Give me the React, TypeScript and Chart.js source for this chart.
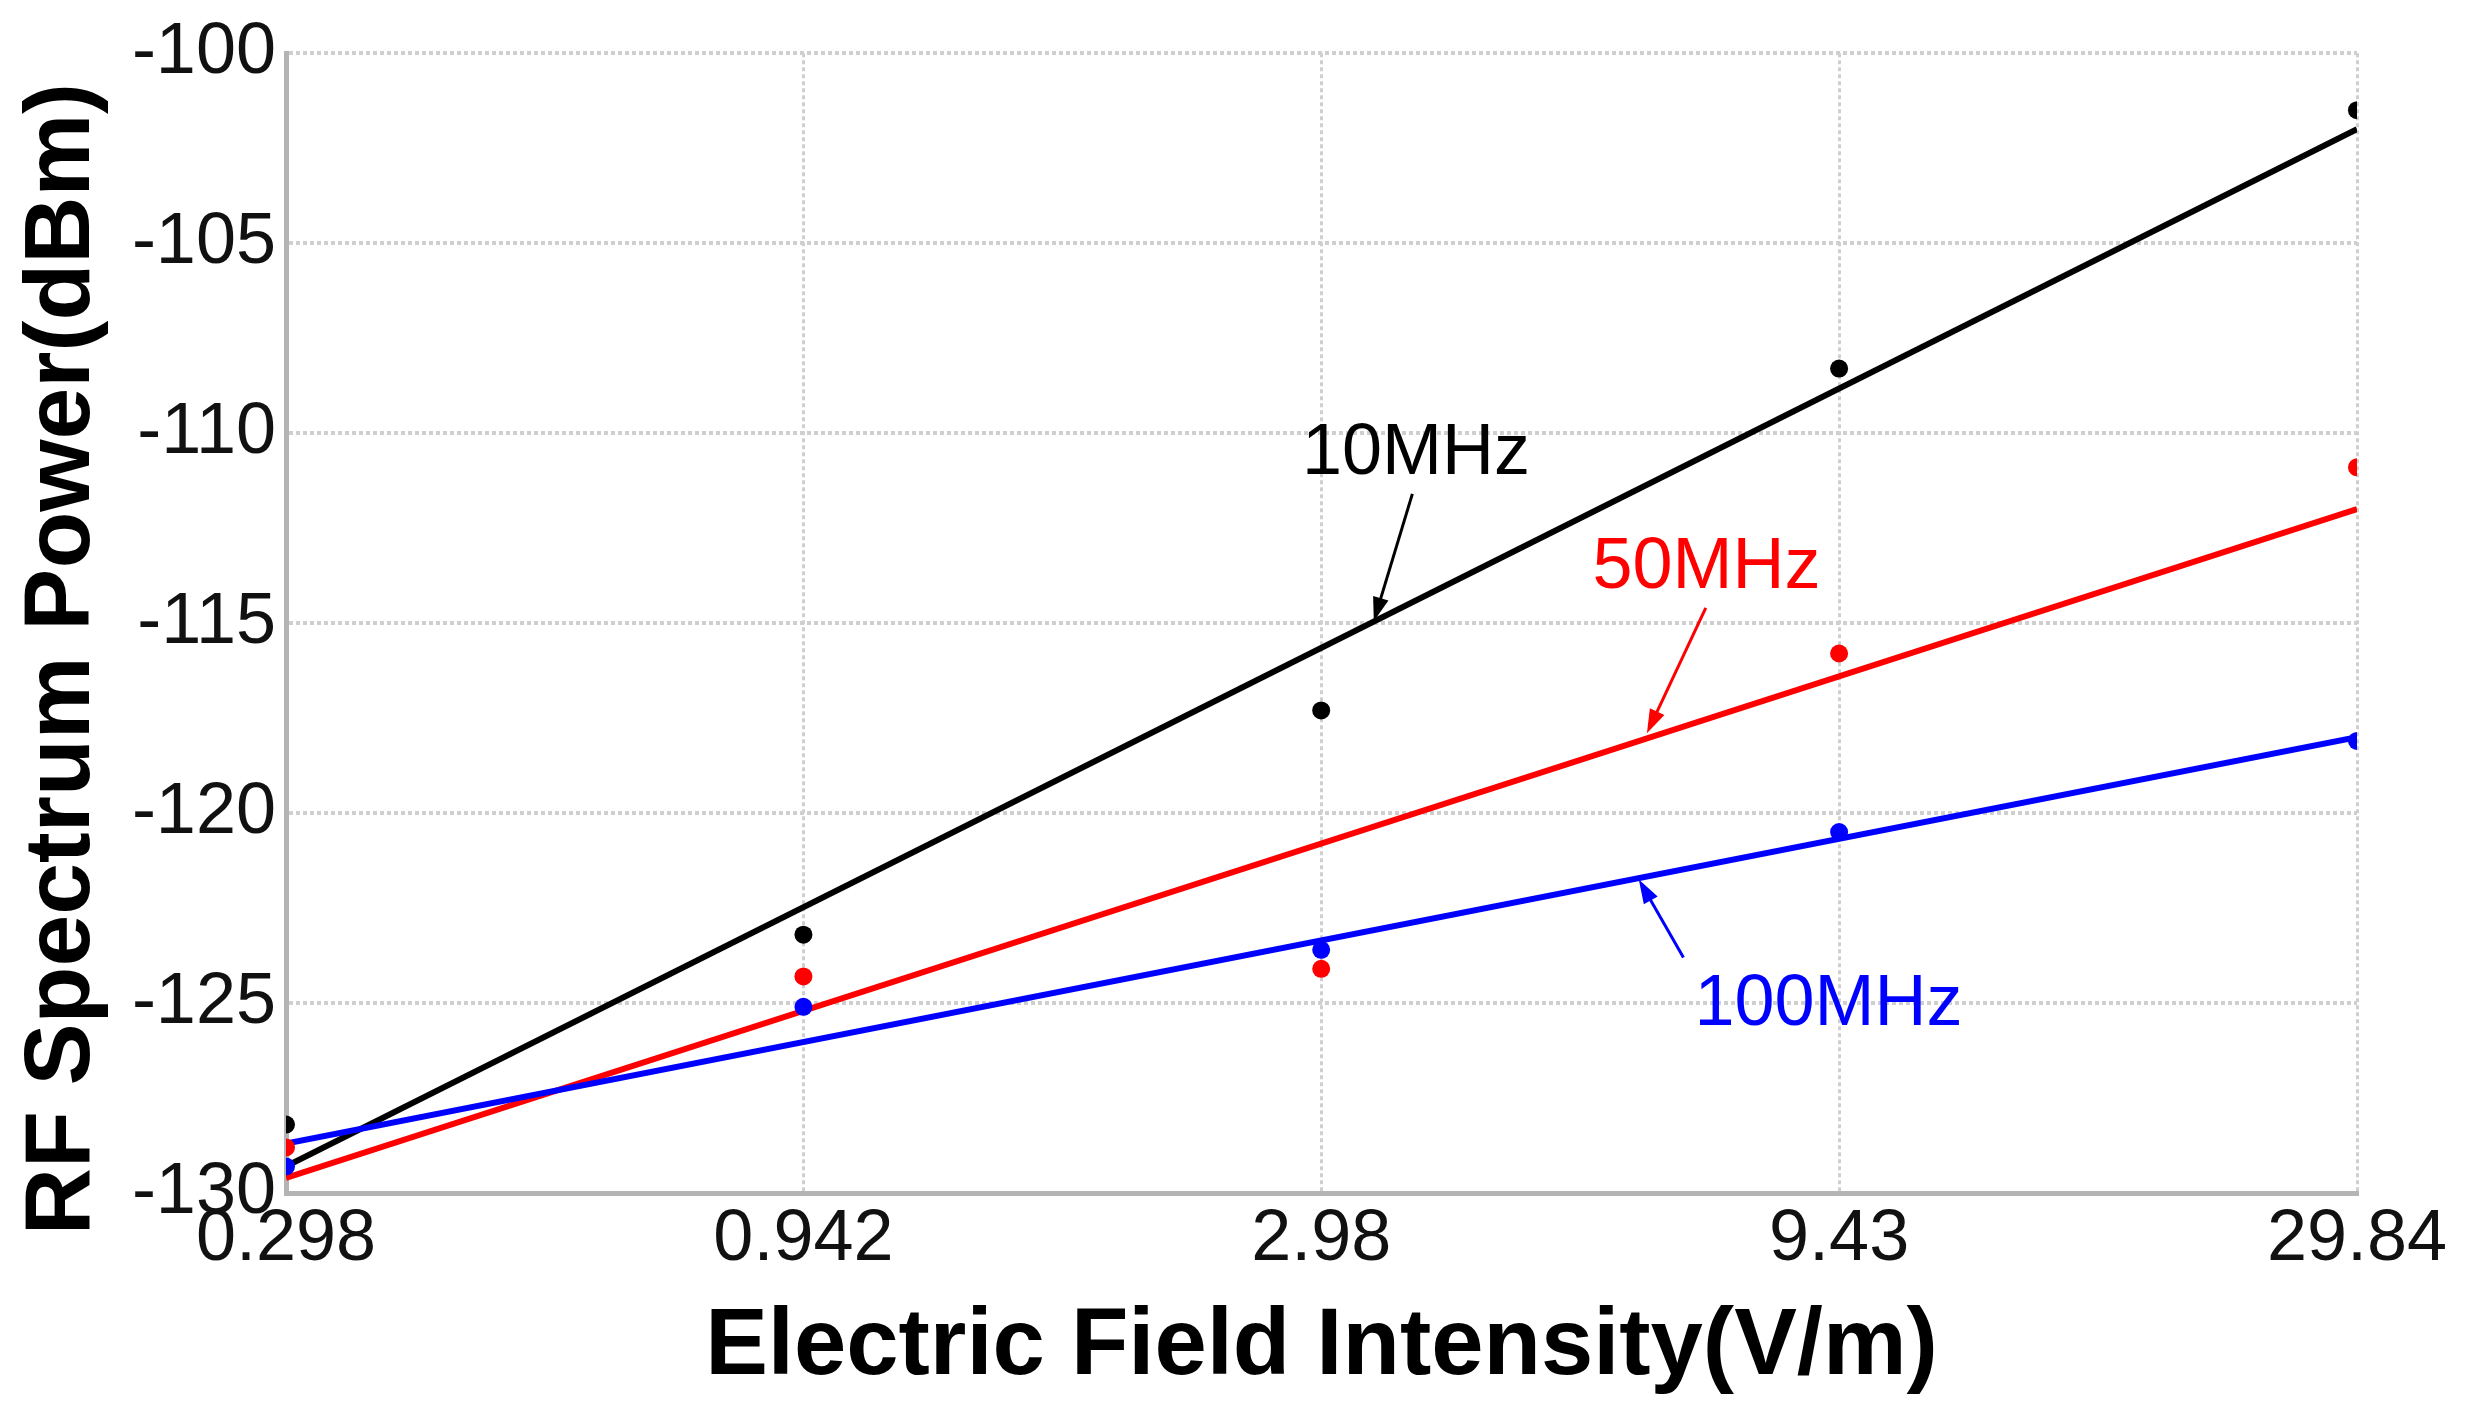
import React, { useEffect, useRef } from 'react';
import { Chart, registerables } from 'chart.js';

Chart.register(...registerables);

// x axis: field intensity (V/m), log spaced
const X_TICKS = [0.298, 0.942, 2.98, 9.43, 29.84];
const X_TICK_LABELS = ['0.298', '0.942', '2.98', '9.43', '29.84'];

// y axis range (dBm)
const Y_MIN = -130;
const Y_MAX = -100;
const Y_STEP = 5;

const SERIES_NAMES = ['10MHz', '50MHz', '100MHz'];
const SERIES_COLORS = ['#000000', '#ff0000', '#0000ff'];

// measured points, one per x tick
const MEASURED_10MHZ = [-128.2, -123.2, -117.3, -108.3, -101.5];
const MEASURED_50MHZ = [-128.8, -124.3, -124.1, -115.8, -110.9];
const MEASURED_100MHZ = [-129.3, -125.1, -123.6, -120.5, -118.1];

// fitted lines, value at first and last x tick
const FIT_10MHZ = [-129.3, -102.0];
const FIT_50MHZ = [-129.6, -112.0];
const FIT_100MHZ = [-128.7, -118.0];

// annotation labels and arrows, in data units
const LABEL_AT = [[3.68, -110.4], [7.02, -113.4], [9.21, -124.9]];
const ARROW_FROM = [[3.65, -111.6], [7.01, -114.6], [6.67, -123.8]];
const ARROW_TO = [[3.35, -114.95], [6.15, -117.9], [6.04, -121.75]];

const FONT = '"Liberation Sans", Arial, sans-serif';

const annotationPlugin = {
    id: 'seriesAnnotations',
    afterDatasetsDraw(chart: any) {
        const { ctx, scales } = chart;
        const xs = scales.x;
        const ys = scales.y;
        ctx.save();
        SERIES_NAMES.forEach((name, i) => {
            const color = SERIES_COLORS[i];
            // arrow
            const x1 = xs.getPixelForValue(ARROW_FROM[i][0]);
            const y1 = ys.getPixelForValue(ARROW_FROM[i][1]);
            const x2 = xs.getPixelForValue(ARROW_TO[i][0]);
            const y2 = ys.getPixelForValue(ARROW_TO[i][1]);
            const ang = Math.atan2(y2 - y1, x2 - x1);
            const headLen = 24;
            const headW = 8;
            ctx.strokeStyle = color;
            ctx.fillStyle = color;
            ctx.lineWidth = 3;
            ctx.beginPath();
            ctx.moveTo(x1, y1);
            ctx.lineTo(x2 - Math.cos(ang) * headLen * 0.8, y2 - Math.sin(ang) * headLen * 0.8);
            ctx.stroke();
            ctx.beginPath();
            ctx.moveTo(x2, y2);
            ctx.lineTo(
                x2 - Math.cos(ang) * headLen + Math.sin(ang) * headW,
                y2 - Math.sin(ang) * headLen - Math.cos(ang) * headW
            );
            ctx.lineTo(
                x2 - Math.cos(ang) * headLen - Math.sin(ang) * headW,
                y2 - Math.sin(ang) * headLen + Math.cos(ang) * headW
            );
            ctx.closePath();
            ctx.fill();
            // label
            ctx.font = `72px ${FONT}`;
            ctx.textAlign = 'center';
            ctx.textBaseline = 'alphabetic';
            ctx.fillText(name, xs.getPixelForValue(LABEL_AT[i][0]), ys.getPixelForValue(LABEL_AT[i][1]) + 26);
        });
        ctx.restore();
    },
};

// y axis title is drawn by hand so it can sit a little below the plot centre, as in the source figure
const yTitlePlugin = {
    id: 'yTitle',
    afterDraw(chart: any) {
        const { ctx, chartArea } = chart;
        ctx.save();
        ctx.translate(63, (chartArea.top + chartArea.bottom) / 2 + 36);
        ctx.rotate(-Math.PI / 2);
        ctx.font = `bold 93px ${FONT}`;
        ctx.fillStyle = '#000000';
        ctx.textAlign = 'center';
        ctx.textBaseline = 'middle';
        ctx.fillText('RF Spectrum Power(dBm)', 0, 0);
        ctx.restore();
    },
};

const toPoints = (values: number[]) => values.map((v, i) => ({ x: X_TICKS[i], y: v }));
const toFit = (ends: number[]) => [
    { x: X_TICKS[0], y: ends[0] },
    { x: X_TICKS[X_TICKS.length - 1], y: ends[1] },
];

export default function App() {
    const canvasRef = useRef<HTMLCanvasElement>(null);

    useEffect(() => {
        if (!canvasRef.current) return;
        const measured = [MEASURED_10MHZ, MEASURED_50MHZ, MEASURED_100MHZ];
        const fits = [FIT_10MHZ, FIT_50MHZ, FIT_100MHZ];

        const pointSets = measured.map((vals, i) => ({
            label: SERIES_NAMES[i] + ' measured',
            data: toPoints(vals),
            showLine: false,
            pointRadius: 9,
            pointBorderWidth: 0,
            pointBackgroundColor: SERIES_COLORS[i],
            backgroundColor: SERIES_COLORS[i],
        }));
        // reversed so black is drawn first and blue last
        const fitSets = [2, 1, 0].map(i => ({
            label: SERIES_NAMES[i] + ' fit',
            data: toFit(fits[i]),
            showLine: true,
            borderColor: SERIES_COLORS[i],
            borderWidth: 6,
            pointRadius: 0,
            fill: false,
        }));

        const chart = new Chart(canvasRef.current, {
            type: 'scatter',
            data: { datasets: [...pointSets, ...fitSets] },
            options: {
                responsive: true,
                maintainAspectRatio: false,
                animation: false,
                layout: { padding: { top: 44, right: 110, left: 0, bottom: 0 } },
                plugins: {
                    legend: { display: false },
                    tooltip: { enabled: false },
                },
                scales: {
                    x: {
                        type: 'logarithmic',
                        min: X_TICKS[0],
                        max: X_TICKS[X_TICKS.length - 1],
                        afterBuildTicks: (axis: any) => {
                            axis.ticks = X_TICKS.map(v => ({ value: v }));
                        },
                        afterFit: (axis: any) => {
                            axis.height = 219;
                        },
                        ticks: {
                            autoSkip: false,
                            maxRotation: 0,
                            padding: 4,
                            color: '#111111',
                            font: { family: FONT, size: 72 },
                            callback: (value: any) => {
                                const i = X_TICKS.indexOf(Number(value));
                                return i >= 0 ? X_TICK_LABELS[i] : '';
                            },
                        },
                        grid: { color: '#cfcfcf', lineWidth: 3, drawTicks: false },
                        border: { display: true, color: '#b4b4b4', width: 5, dash: [4, 3] },
                        title: {
                            display: true,
                            text: 'Electric Field Intensity(V/m)',
                            color: '#000000',
                            font: { family: FONT, size: 94, weight: 'bold' },
                            padding: { top: 0, bottom: 8 },
                        },
                    },
                    y: {
                        min: Y_MIN,
                        max: Y_MAX,
                        afterFit: (axis: any) => {
                            axis.width = 286;
                        },
                        ticks: {
                            stepSize: Y_STEP,
                            padding: 10,
                            color: '#111111',
                            font: { family: FONT, size: 72 },
                            callback: (value: any) => String(value),
                        },
                        grid: { color: '#cfcfcf', lineWidth: 4, drawTicks: false },
                        border: { display: true, color: '#b4b4b4', width: 5, dash: [4, 3] },
                        title: { display: false },
                    },
                },
            },
            plugins: [annotationPlugin, yTitlePlugin],
        });

        return () => {
            chart.destroy();
        };
    }, []);

    return (
        <div style={{ position: 'absolute', left: 0, top: 0, width: 2467, height: 1412, background: '#ffffff' }}>
            <canvas ref={canvasRef}></canvas>
        </div>
    );
}
